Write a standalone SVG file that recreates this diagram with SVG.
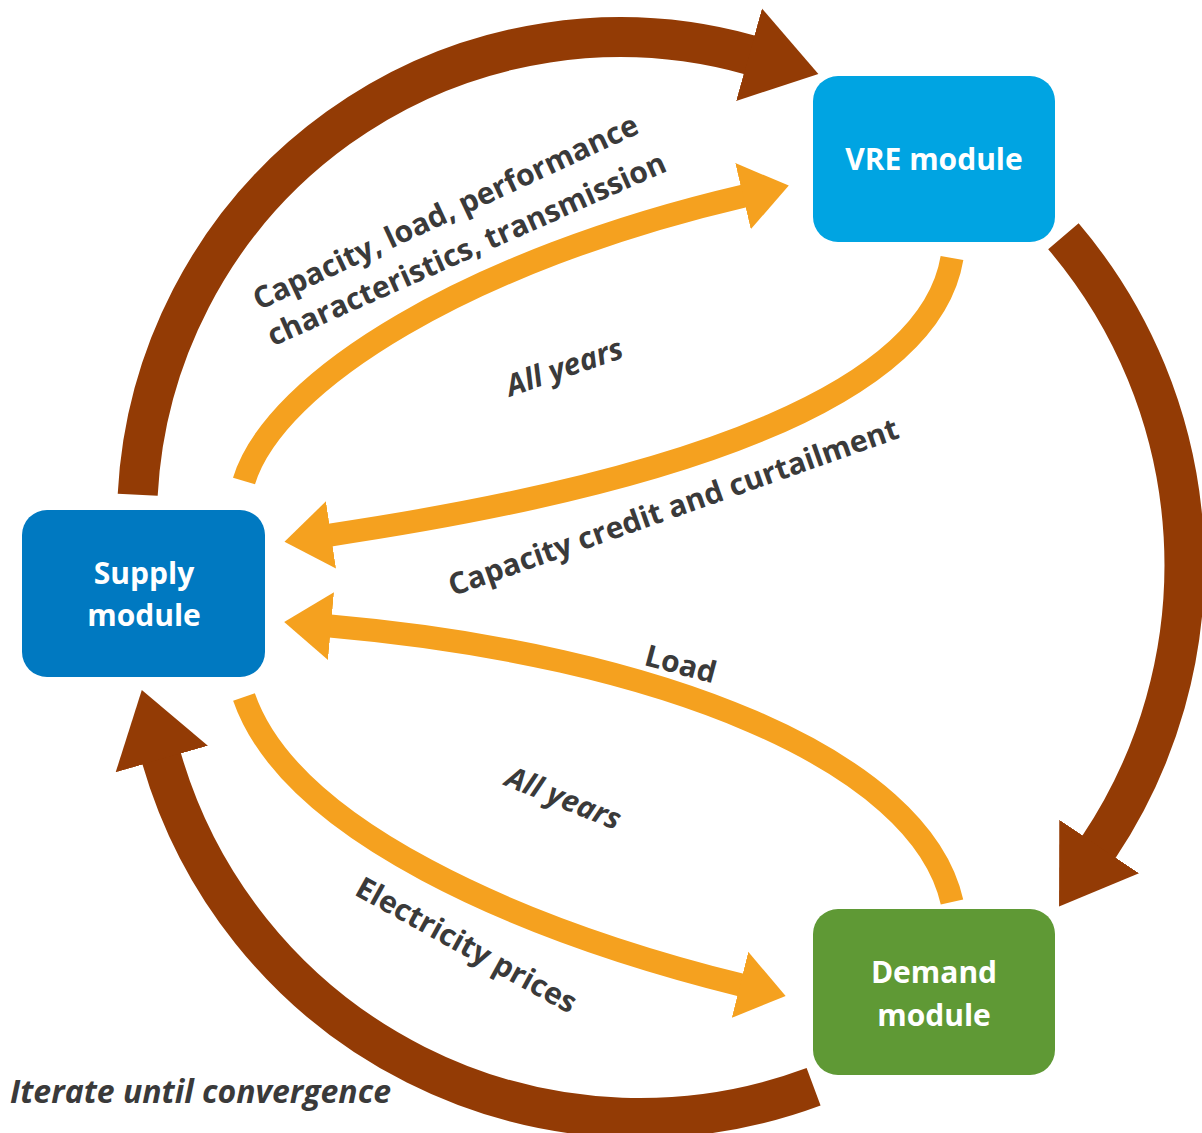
<svg xmlns="http://www.w3.org/2000/svg" width="1202" height="1133" viewBox="0 0 1202 1133">
  <style>
    .box-text { font-family: "Open Sans", "Liberation Sans", sans-serif; font-weight: 700; font-size: 30px; fill: #ffffff; text-anchor: middle; }
    .lbl { font-family: "Open Sans", "Liberation Sans", sans-serif; font-weight: 700; font-size: 30px; fill: #3a3a3a; text-anchor: middle; dominant-baseline: central; }
    .it { font-style: italic; }
    .brown { fill: none; stroke: #933b05; stroke-width: 40; stroke-linecap: butt; }
    .orange { fill: none; stroke: #f5a11f; stroke-width: 23; stroke-linecap: butt; }
  </style>
  <defs>
    <marker id="headBrown" markerUnits="userSpaceOnUse" viewBox="0 -52 80 104" markerWidth="80" markerHeight="104" refX="1" refY="0" orient="auto">
      <path d="M0,-48 L72,0 L0,48 z" fill="#933b05"/>
    </marker>
    <marker id="headOrange" markerUnits="userSpaceOnUse" viewBox="0 -40 56 80" markerWidth="56" markerHeight="80" refX="1" refY="0" orient="auto">
      <path d="M0,-34 L47,0 L0,34 z" fill="#f5a11f"/>
    </marker>
  </defs>
  <rect width="1202" height="1133" fill="#ffffff"/>

  <g id="connectors">
    <path class="brown" d="M137.7,494.7 A483,483 0 0 1 750,55" marker-end="url(#headBrown)"/>
    <path class="brown" d="M1063.4,236.3 A507,507 0 0 1 1098.6,847.4" marker-end="url(#headBrown)"/>
    <path class="brown" d="M813.6,1086.8 A498,498 0 0 1 161.5,758.1" marker-end="url(#headBrown)"/>

    <path class="orange" d="M244,481 C275,380 470,260 744,196" marker-end="url(#headOrange)"/>
    <path class="orange" d="M952,258 C930,390 700,480 330,535" marker-end="url(#headOrange)"/>
    <path class="orange" d="M952,902 C920,760 660,655 330,626" marker-end="url(#headOrange)"/>
    <path class="orange" d="M244,697 C290,830 520,930 741,985" marker-end="url(#headOrange)"/>
  </g>

  <g id="labels">
    <text class="lbl" transform="translate(445,211) rotate(-25)">Capacity, load, performance</text>
    <text class="lbl" transform="translate(466,248) rotate(-24)">characteristics, transmission</text>
    <text class="lbl it" transform="translate(564,366) rotate(-19)">All years</text>
    <text class="lbl" transform="translate(673,506) rotate(-19.5)">Capacity credit and curtailment</text>
    <text class="lbl" transform="translate(681,663) rotate(15)">Load</text>
    <text class="lbl it" transform="translate(564,797) rotate(22)">All years</text>
    <text class="lbl" transform="translate(467,944) rotate(29)">Electricity prices</text>
    <text class="lbl it" x="10" y="1090" style="text-anchor:start;font-size:32px">Iterate until convergence</text>
  </g>

  <g id="node-vre">
    <rect x="813" y="76" width="242" height="166" rx="25" fill="#00a4e2"/>
    <text class="box-text" x="934" y="170">VRE module</text>
  </g>
  <g id="node-supply">
    <rect x="22" y="510" width="243" height="167" rx="25" fill="#0079c1"/>
    <text class="box-text" x="144" y="584">Supply</text>
    <text class="box-text" x="144" y="626">module</text>
  </g>
  <g id="node-demand">
    <rect x="813" y="909" width="242" height="166" rx="25" fill="#5f9935"/>
    <text class="box-text" x="934" y="983">Demand</text>
    <text class="box-text" x="934" y="1026">module</text>
  </g>
</svg>
